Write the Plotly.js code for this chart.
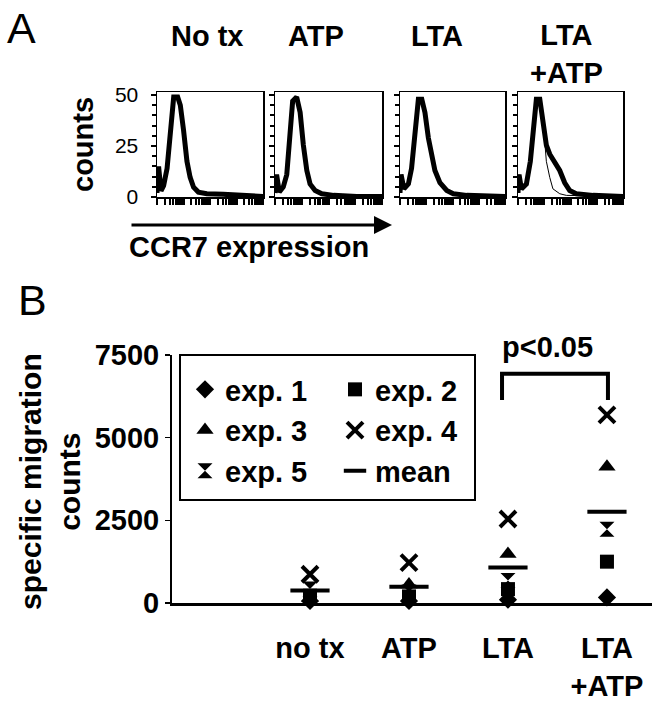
<!DOCTYPE html>
<html>
<head>
<meta charset="utf-8">
<script src="https://cdn.plot.ly/plotly-3.0.1.min.js"></script>
<style>html,body{margin:0;padding:0;background:#fff;}#chart{width:658px;height:706px;}</style>
</head>
<body>
<div id="chart"></div>
<script>
// ---------- Panel A: CCR7 histograms (x in log decades, y = counts) ----------
const histTitles = ["No tx", "ATP", "LTA", "LTA<br>+ATP"];
const noTxX = [0.00, 0.06, 0.15, 0.25, 0.38, 0.50, 0.63, 0.78, 0.88, 1.00, 1.13, 1.25, 1.38, 1.56, 1.88, 2.50, 3.13, 4.00];
const noTxY = [2, 15, 3, 5.6, 14, 33, 49, 49, 45, 33, 17.5, 9.6, 4.8, 2.4, 1.6, 1.3, 0.8, 0.3];
const atpX = [0.00, 0.06, 0.16, 0.31, 0.44, 0.56, 0.66, 0.81, 0.94, 1.06, 1.19, 1.31, 1.50, 1.75, 2.19, 3.06, 4.00];
const atpY = [2, 11, 2.4, 5, 11, 29, 47, 49, 41.5, 25.5, 13, 6.4, 3.2, 1.6, 0.8, 0.3, 0.2];
const ltaX = [0.00, 0.04, 0.15, 0.32, 0.44, 0.57, 0.70, 0.83, 0.95, 1.08, 1.21, 1.33, 1.52, 1.78, 2.03, 2.54, 4.00];
const ltaY = [2, 11, 4, 6.4, 14, 33.5, 48, 48, 41.5, 29, 19, 13, 7, 3.2, 1.6, 0.8, 0.3];
const ltaAtpX = [0.00, 0.04, 0.13, 0.32, 0.47, 0.60, 0.70, 0.83, 0.95, 1.08, 1.21, 1.40, 1.59, 1.78, 1.97, 2.22, 2.86, 4.00];
const ltaAtpY = [2, 11, 4, 6.4, 17.5, 38, 48, 48, 38, 25.5, 21, 17.5, 13, 7, 3.2, 1.6, 0.8, 0.3];
const ctrlX = [0.00, 0.04, 0.13, 0.32, 0.47, 0.60, 0.70, 0.83, 0.95, 1.02, 1.08, 1.21, 1.33, 1.59, 1.84, 4.00];
const ctrlY = [2, 11, 4, 6.4, 17.5, 38, 48, 48, 38, 26, 17.5, 9.6, 4, 1.6, 0.8, 0.3];
const histYTicks = [0, 25, 50];
const logMantissas = [1, 2, 3, 4, 5, 6, 7, 8, 9];
const logDecades = [0, 1, 2, 3];

// ---------- Panel B: specific migration counts ----------
const categories = ["no tx", "ATP", "LTA", "LTA<br>+ATP"];
const exp1 = [60, 60, 100, 170];
const exp2 = [220, 200, 420, 1250];
const exp3 = [150, 560, 1480, 4120];
const exp4 = [870, 1220, 2540, 5690];
const exp5 = [420, 330, 680, 2230];
const meanVals = [375, 490, 1070, 2760];
const yTicksB = [0, 2500, 5000, 7500];

const FONT = 'Liberation Sans, Arial, Helvetica, sans-serif';
const W = 658, H = 706;
const px = v => v / W;
const py = v => 1 - v / H;

const logTicks = [];
logDecades.forEach(d => logMantissas.forEach(m => logTicks.push(d + Math.log10(m))));
logTicks.push(4);

const histData = [[noTxX, noTxY], [atpX, atpY], [ltaX, ltaY], [ltaAtpX, ltaAtpY]];
const boxDomains = [[157, 263], [275, 382], [400, 505], [518, 623]];

const traces = [];
histData.forEach((h, i) => {
  const s = i === 0 ? '' : String(i + 1);
  traces.push({x: h[0], y: h[1], xaxis: 'x' + s, yaxis: 'y' + s, type: 'scatter', mode: 'lines',
    line: {color: 'black', width: 5}, showlegend: false, hoverinfo: 'skip'});
});
traces.push({x: ctrlX, y: ctrlY, xaxis: 'x4', yaxis: 'y4', type: 'scatter', mode: 'lines',
  line: {color: 'black', width: 1}, showlegend: false, hoverinfo: 'skip'});

function expTrace(name, vals, symbol, size, legend, lineW) {
  return {x: categories, y: vals, xaxis: 'x5', yaxis: 'y5', type: 'scatter', mode: 'markers', name: name,
    legend: legend, cliponaxis: false,
    marker: {symbol: symbol, size: size, color: 'black', line: {color: 'black', width: lineW}}};
}
traces.push(expTrace('exp. 1', exp1, 'diamond', 14, 'legend', 0));
traces.push(expTrace('exp. 3', exp3, 'triangle-up', 15, 'legend', 0));
traces.push(expTrace('exp. 5', exp5, 'hourglass', 15, 'legend', 0));
traces.push(expTrace('exp. 2', exp2, 'square', 14, 'legend2', 0));
traces.push(expTrace('exp. 4', exp4, 'x-thin', 16, 'legend2', 4));
traces.push(expTrace('mean', meanVals, 'line-ew', 28, 'legend2', 4));

const layout = {
  width: W, height: H,
  margin: {l: 0, r: 0, t: 0, b: 0},
  paper_bgcolor: 'white', plot_bgcolor: 'rgba(0,0,0,0)',
  font: {family: FONT, color: 'black'},
  showlegend: true,
  legend: {x: px(185), y: py(364), xanchor: 'left', yanchor: 'top', bgcolor: 'rgba(0,0,0,0)',
    borderwidth: 0, font: {family: FONT, size: 29, weight: 'bold', color: 'black'}},
  legend2: {x: px(335), y: py(364), xanchor: 'left', yanchor: 'top', bgcolor: 'rgba(0,0,0,0)',
    borderwidth: 0, font: {family: FONT, size: 29, weight: 'bold', color: 'black'}},
  annotations: [],
  shapes: []
};

boxDomains.forEach((d, i) => {
  const s = i === 0 ? '' : String(i + 1);
  layout['xaxis' + s] = {domain: [px(d[0]), px(d[1])], range: [0, 4], anchor: 'y' + s,
    showline: true, mirror: true, linecolor: 'black', linewidth: 1.5,
    tickmode: 'array', tickvals: logTicks, ticks: 'outside', ticklen: 6, tickwidth: 2, tickcolor: 'black',
    showticklabels: false, showgrid: false, zeroline: false, fixedrange: true};
  layout['yaxis' + s] = {domain: [py(197), py(92)], range: [0, 51.5], anchor: 'x' + s,
    showline: true, mirror: true, linecolor: 'black', linewidth: 1.5,
    tickmode: 'array', tickvals: histYTicks, ticks: 'outside', ticklen: 5, tickwidth: 2, tickcolor: 'black',
    minor: {ticks: 'outside', dtick: 5, tick0: 0, ticklen: 4, tickwidth: 2, tickcolor: 'black'},
    showticklabels: i === 0, tickfont: {family: FONT, size: 21, color: 'black'}, ticklabelstandoff: 8,
    showgrid: false, zeroline: false, fixedrange: true};
});

layout.xaxis5 = {domain: [px(172), px(652)], anchor: 'y5', type: 'category', categoryorder: 'array',
  categoryarray: categories, range: [-1.394, 3.455], showline: true, linecolor: 'black', linewidth: 2.5,
  ticks: '', tickfont: {family: FONT, size: 29, weight: 'bold', color: 'black'}, ticklabelstandoff: 18,
  showgrid: false, zeroline: false, fixedrange: true};
layout.yaxis5 = {domain: [py(603), py(355)], anchor: 'x5', range: [0, 7500], tickmode: 'array', tickvals: yTicksB,
  showline: true, linecolor: 'black', linewidth: 2, ticks: 'outside', ticklen: 5, tickwidth: 1.5, tickcolor: 'black',
  tickfont: {family: FONT, size: 29, weight: 'bold', color: 'black'}, ticklabelstandoff: 0,
  showgrid: false, zeroline: false, fixedrange: true};

const titleCenters = [[207, 36], [316, 36], [437, 36], [566, 54]];
histTitles.forEach((t, i) => {
  layout.annotations.push({text: t, xref: 'paper', yref: 'paper', x: px(titleCenters[i][0]), y: py(titleCenters[i][1]),
    xanchor: 'center', yanchor: 'middle', showarrow: false,
    font: {family: FONT, size: 29, weight: 'bold', color: 'black'}});
});
layout.annotations.push(
  {text: 'A', xref: 'paper', yref: 'paper', x: px(21), y: py(28), xanchor: 'center', yanchor: 'middle',
    showarrow: false, font: {family: FONT, size: 43, color: 'black'}},
  {text: 'B', xref: 'paper', yref: 'paper', x: px(32), y: py(300), xanchor: 'center', yanchor: 'middle',
    showarrow: false, font: {family: FONT, size: 43, color: 'black'}},
  {text: 'counts', xref: 'paper', yref: 'paper', x: px(83), y: py(145), textangle: -90, xanchor: 'center',
    yanchor: 'middle', showarrow: false, font: {family: FONT, size: 29, weight: 'bold', color: 'black'}},
  {text: '', xref: 'paper', yref: 'paper', x: px(392), y: py(225), ax: -262, ay: 0, axref: 'pixel', ayref: 'pixel',
    showarrow: true, arrowhead: 2, arrowsize: 1.2, arrowwidth: 3, arrowcolor: 'black', standoff: 0, startstandoff: 0},
  {text: 'CCR7 expression', xref: 'paper', yref: 'paper', x: px(127), y: py(247), xanchor: 'left', yanchor: 'middle',
    showarrow: false, font: {family: FONT, size: 29, weight: 'bold', color: 'black'}},
  {text: 'p<0.05', xref: 'paper', yref: 'paper', x: px(547), y: py(347), xanchor: 'center', yanchor: 'middle',
    showarrow: false, font: {family: FONT, size: 29, weight: 'bold', color: 'black'}},
  {text: 'specific migration<br>counts', xref: 'paper', yref: 'paper', x: px(50), y: py(482), textangle: -90,
    xanchor: 'center', yanchor: 'middle', showarrow: false,
    font: {family: FONT, size: 30, weight: 'bold', color: 'black'}}
);

// legend frame
layout.shapes.push({type: 'rect', xref: 'paper', yref: 'paper', x0: px(180), x1: px(475), y0: py(500), y1: py(355),
  line: {color: 'black', width: 2}, fillcolor: 'rgba(0,0,0,0)'});
// significance bracket between LTA and LTA+ATP
layout.shapes.push({type: 'path', xref: 'x5', yref: 'y5', path: 'M1.94,6140 L1.94,6930 L3.01,6930 L3.01,6140',
  line: {color: 'black', width: 4}});

Plotly.newPlot('chart', traces, layout, {staticPlot: true, displayModeBar: false});
</script>
</body>
</html>
